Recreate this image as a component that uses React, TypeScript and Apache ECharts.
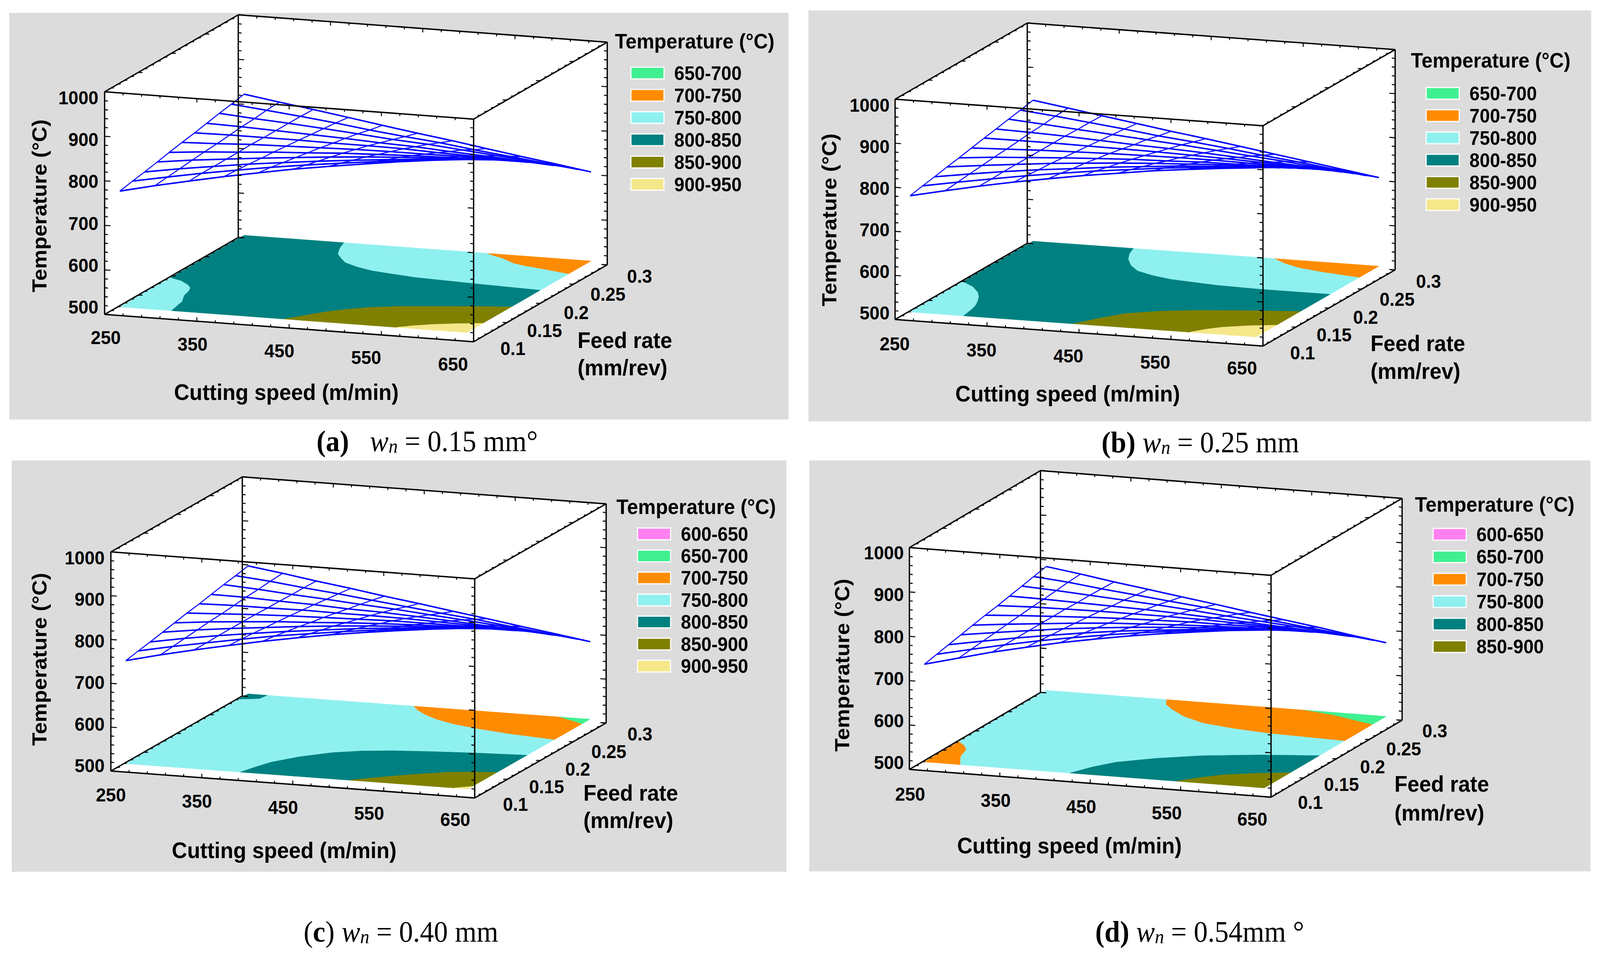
import React, { useEffect, useRef } from "react";
import * as echarts from "echarts";

type Pt = [number, number];

const SANS = '"Liberation Sans", Arial, sans-serif';
const SERIF = '"Liberation Serif", serif';

// axis ticks
const speedLabels = [250, 350, 450, 550, 650];
const feedLabels = ["0.1", "0.15", "0.2", "0.25", "0.3"];
const tempLabels = [500, 600, 700, 800, 900, 1000];

// grid of the fitted surface
const meshSpeeds = [252, 290, 327, 365, 402, 440, 478, 515, 553, 590, 628];
const meshFeeds = [0.12, 0.139, 0.157, 0.176, 0.194, 0.213, 0.232, 0.25, 0.269, 0.287, 0.306];

// legend colours
const bandColors: Record<string, string> = {
  "600-650": "#ff80f0",
  "650-700": "#40f090",
  "700-750": "#ff8c00",
  "750-800": "#8ff0f0",
  "800-850": "#008080",
  "850-900": "#808000",
  "900-950": "#f5e78a",
};

// temperature surfaces: rows run from low feed to high feed, columns from low speed to high speed
const surfaceA = [
  [760, 778, 794, 810, 824, 838, 850, 861, 872, 881, 889],
  [766, 781, 795, 808, 820, 831, 841, 850, 859, 867, 873],
  [771, 784, 795, 806, 815, 824, 832, 839, 846, 851, 856],
  [777, 787, 795, 803, 810, 817, 823, 828, 832, 836, 839],
  [783, 790, 795, 801, 805, 810, 813, 816, 818, 820, 821],
  [789, 792, 796, 798, 800, 802, 803, 803, 804, 803, 802],
  [794, 795, 795, 795, 794, 794, 793, 790, 788, 786, 783],
  [800, 798, 795, 792, 789, 785, 782, 777, 773, 768, 763],
  [806, 800, 795, 789, 783, 776, 771, 764, 757, 750, 743],
  [811, 803, 795, 786, 776, 767, 759, 749, 740, 731, 722],
  [817, 805, 794, 782, 770, 758, 747, 735, 723, 712, 700],
];
const surfaceB = [
  [764, 781, 797, 812, 825, 838, 849, 860, 869, 877, 884],
  [770, 784, 797, 810, 821, 832, 841, 850, 857, 863, 868],
  [775, 787, 798, 808, 816, 825, 832, 839, 844, 849, 852],
  [781, 790, 798, 806, 812, 818, 823, 827, 831, 833, 835],
  [786, 793, 798, 803, 807, 811, 813, 816, 817, 818, 818],
  [792, 795, 798, 800, 802, 803, 804, 804, 803, 802, 800],
  [798, 798, 798, 797, 796, 795, 793, 791, 788, 785, 781],
  [803, 801, 798, 794, 790, 787, 783, 778, 773, 768, 762],
  [809, 803, 797, 791, 785, 779, 772, 765, 758, 750, 742],
  [814, 806, 797, 788, 778, 770, 761, 751, 742, 732, 722],
  [820, 808, 796, 784, 772, 761, 749, 737, 725, 713, 701],
];
const surfaceC = [
  [735, 754, 771, 787, 802, 816, 829, 840, 850, 859, 867],
  [741, 757, 771, 785, 798, 809, 820, 829, 837, 844, 851],
  [746, 760, 772, 783, 793, 802, 811, 818, 824, 829, 834],
  [752, 763, 772, 780, 788, 795, 801, 806, 810, 814, 816],
  [758, 766, 772, 778, 782, 787, 791, 794, 796, 798, 798],
  [764, 768, 772, 775, 777, 779, 781, 781, 781, 781, 780],
  [769, 771, 771, 772, 771, 771, 770, 768, 766, 764, 760],
  [775, 774, 771, 769, 765, 763, 759, 755, 750, 746, 740],
  [781, 776, 770, 765, 759, 754, 747, 741, 734, 727, 720],
  [786, 779, 770, 762, 753, 744, 735, 727, 717, 708, 699],
  [792, 781, 769, 758, 746, 735, 723, 712, 700, 689, 677],
];
const surfaceD = [
  [720, 740, 759, 776, 792, 806, 819, 830, 840, 849, 856],
  [726, 743, 759, 774, 787, 799, 810, 819, 827, 834, 840],
  [732, 746, 759, 771, 782, 792, 800, 807, 814, 819, 823],
  [738, 749, 759, 769, 777, 784, 790, 795, 800, 803, 805],
  [744, 752, 759, 766, 772, 776, 780, 783, 785, 787, 787],
  [750, 755, 759, 763, 766, 768, 770, 770, 771, 770, 769],
  [755, 758, 759, 760, 760, 760, 759, 757, 755, 752, 749],
  [761, 760, 758, 756, 754, 751, 747, 743, 739, 734, 729],
  [767, 763, 758, 753, 748, 742, 735, 729, 723, 716, 709],
  [773, 766, 757, 749, 741, 733, 724, 715, 706, 697, 688],
  [779, 768, 756, 745, 734, 723, 711, 700, 689, 677, 666],
];

// contour lines on the floor: [cutting speed, feed rate]
const aLeft: Pt[] = [[252, 0.196], [267, 0.191], [280, 0.183], [288, 0.176], [292, 0.168], [295, 0.157], [303, 0.143], [308, 0.12]];
const aUpper: Pt[] = [[360, 0.306], [365, 0.293], [373, 0.279], [384, 0.269], [395, 0.26], [414, 0.252], [434, 0.246], [459, 0.242], [487, 0.238], [551, 0.234], [628, 0.23]];
const aOrange: Pt[] = [[515, 0.306], [526, 0.301], [538, 0.297], [558, 0.287], [573, 0.283], [590, 0.28], [628, 0.272]];
const aOlive: Pt[] = [[430, 0.12], [443, 0.131], [457, 0.143], [474, 0.153], [492, 0.161], [520, 0.169], [549, 0.174], [590, 0.181], [628, 0.187]];
const aYellow: Pt[] = [[552, 0.12], [566, 0.127], [582, 0.133], [604, 0.139], [628, 0.144]];

const bLeft: Pt[] = [[252, 0.2], [270, 0.19], [285, 0.177], [293, 0.167], [299, 0.157], [304, 0.147], [307, 0.137], [310, 0.12]];
const bUpper: Pt[] = [[361, 0.306], [366, 0.293], [374, 0.28], [387, 0.266], [403, 0.254], [425, 0.246], [449, 0.24], [503, 0.234], [551, 0.232], [628, 0.232]];
const bOrange: Pt[] = [[514, 0.306], [533, 0.296], [555, 0.288], [585, 0.282], [620, 0.277], [628, 0.276]];
const bOlive: Pt[] = [[429, 0.12], [445, 0.137], [463, 0.153], [492, 0.164], [526, 0.172], [575, 0.18], [628, 0.187]];
const bYellow: Pt[] = [[556, 0.12], [567, 0.13], [579, 0.137], [602, 0.145], [628, 0.151]];

const cPatch: Pt[] = [[252, 0.292], [271, 0.297], [273, 0.306]];
const cTeal: Pt[] = [[378, 0.12], [384, 0.135], [391, 0.149], [410, 0.167], [434, 0.182], [460, 0.191], [489, 0.197], [530, 0.202], [572, 0.206], [628, 0.21]];
const cOlive: Pt[] = [[498, 0.12], [517, 0.13], [537, 0.139], [558, 0.148], [580, 0.156], [603, 0.161], [628, 0.164]];
const cOrange: Pt[] = [[434, 0.306], [446, 0.296], [461, 0.287], [480, 0.278], [504, 0.27], [537, 0.263], [574, 0.257], [628, 0.251]];
const cGreen: Pt[] = [[593, 0.306], [621, 0.296], [628, 0.293]];
const cYellow: Pt[] = [[613, 0.12], [628, 0.127]];

const dLeft: Pt[] = [[252, 0.173], [265, 0.164], [273, 0.155], [275, 0.149], [278, 0.14], [284, 0.131], [292, 0.12]];
const dUpper: Pt[] = [[385, 0.306], [392, 0.295], [407, 0.284], [430, 0.27], [460, 0.258], [498, 0.251], [541, 0.246], [628, 0.242]];
const dGreen: Pt[] = [[536, 0.306], [576, 0.299], [622, 0.286], [628, 0.285]];
const dTeal: Pt[] = [[413, 0.12], [425, 0.138], [440, 0.153], [473, 0.169], [513, 0.183], [568, 0.195], [628, 0.204]];
const dOlive: Pt[] = [[531, 0.12], [547, 0.132], [566, 0.143], [595, 0.152], [628, 0.16]];

const rev = (l: Pt[]): Pt[] => [...l].reverse();

// bands closed from those lines and the edges of the floor
const contoursA: Record<string, Pt[][]> = {
  "700-750": [[...aOrange, [628, 0.306]]],
  "750-800": [[[252, 0.12], ...rev(aLeft)], [...aUpper, ...rev(aOrange)]],
  "800-850": [[...aLeft, ...aOlive, ...rev(aUpper), [252, 0.306]]],
  "850-900": [[...aOlive, ...rev(aYellow)]],
  "900-950": [[...aYellow, [628, 0.12]]],
};
const contoursB: Record<string, Pt[][]> = {
  "700-750": [[...bOrange, [628, 0.306]]],
  "750-800": [[[252, 0.12], ...rev(bLeft)], [...bUpper, ...rev(bOrange)]],
  "800-850": [[...bLeft, ...bOlive, ...rev(bUpper), [252, 0.306]]],
  "850-900": [[...bOlive, ...rev(bYellow)]],
  "900-950": [[...bYellow, [628, 0.12]]],
};
const contoursC: Record<string, Pt[][]> = {
  "650-700": [[...cGreen, [628, 0.306]]],
  "700-750": [[...cOrange, ...rev(cGreen)]],
  "750-800": [[[252, 0.12], ...cTeal, ...rev(cOrange), ...rev(cPatch)]],
  "800-850": [[...cPatch, [252, 0.306]], [...cTeal, ...rev(cOlive)]],
  "850-900": [[...cOlive, ...rev(cYellow)]],
  "900-950": [[...cYellow, [628, 0.12]]],
};
const contoursD: Record<string, Pt[][]> = {
  "650-700": [[...dGreen, [628, 0.306]]],
  "700-750": [[[252, 0.12], ...rev(dLeft)], [...dUpper, ...rev(dGreen)]],
  "750-800": [[...dLeft, ...dTeal, ...rev(dUpper), [252, 0.306]]],
  "800-850": [[...dTeal, ...rev(dOlive)]],
  "850-900": [[...dOlive, [628, 0.12]]],
};

const legendA = ["650-700", "700-750", "750-800", "800-850", "850-900", "900-950"];
const legendC = ["600-650", "650-700", "700-750", "750-800", "800-850", "850-900", "900-950"];
const legendD = ["600-650", "650-700", "700-750", "750-800", "800-850", "850-900"];

// page layout of each panel
const panels = [
  {
    rect: [25, 33, 2148, 1074], origin: [285, 805], sVec: [1005, 70], fVec: [364, -197], h: 570,
    surface: surfaceA, contours: contoursA, legend: legendA,
    tempLab: [268, 786, 250], speedLab: [288, 864, 1234, 932], feedLab: [1397, 892, 1742, 707],
    cutTitle: [780, 1004], feedTitle: [1573, 871, 941], tempTitle: [108, 527],
    legTitle: [1675, 105], legBox: [1717, 187, 57], capRich: "{b|(a)}{r|   }{i|w}{s|n}{r| = 0.15 mm°}", capLeft: 862, capY: 1133,
  },
  {
    rect: [2202, 27, 4334, 1079], origin: [2438, 818], sVec: [1002, 68], fVec: [360, -195], h: 564,
    surface: surfaceB, contours: contoursB, legend: legendA,
    tempLab: [2423, 801, 269], speedLab: [2437, 880, 3383, 942], feedLab: [3548, 903, 3891, 720],
    cutTitle: [2908, 1008], feedTitle: [3733, 879, 950], tempTitle: [2259, 563],
    legTitle: [3843, 154], legBox: [3883, 239, 57], capRich: "{b|(b)}{r| }{i|w}{s|n}{r| = 0.25 mm}", capLeft: 3000, capY: 1136,
  },
  {
    rect: [32, 1179, 2142, 2232], origin: [302, 1974], sVec: [991, 69], fVec: [358, -192], h: 561,
    surface: surfaceC, contours: contoursC, legend: legendC,
    tempLab: [285, 1960, 1428], speedLab: [302, 2035, 1240, 2098], feedLab: [1404, 2059, 1743, 1879],
    cutTitle: [774, 2177], feedTitle: [1589, 2030, 2100], tempTitle: [108, 1688],
    legTitle: [1679, 1297], legBox: [1735, 1367, 56.4], capRich: "{r|(}{b|c}{r|)}{r| }{i|w}{s|n}{r| = 0.40 mm}", capLeft: 827, capY: 2389,
  },
  {
    rect: [2204, 1179, 4332, 2231], origin: [2477, 1970], sVec: [985, 71], fVec: [357, -197], h: 568,
    surface: surfaceD, contours: contoursD, legend: legendD,
    tempLab: [2462, 1952, 1415], speedLab: [2479, 2033, 3411, 2097], feedLab: [3569, 2054, 3908, 1871],
    cutTitle: [2913, 2165], feedTitle: [3798, 2007, 2081], tempTitle: [2294, 1703],
    legTitle: [3854, 1291], legBox: [3902, 1368, 57.5], capRich: "{b|(d)}{r| }{i|w}{s|n}{r| = 0.54mm °}", capLeft: 2983, capY: 2389,
  },
];

function buildOption() {
  const series: any[] = [];
  const grid: any[] = [];
  const xAxis: any[] = [];
  const yAxis: any[] = [];
  const legend: any[] = [];
  const title: any[] = [];
  const graphic: any[] = [];

  panels.forEach((p, idx) => {
    const [x0, y0, x1, y1] = p.rect;
    grid.push({ left: x0, top: y0, width: x1 - x0, height: y1 - y0, show: true, backgroundColor: "#dcdcdc", borderWidth: 0 });
    xAxis.push({ type: "value", gridIndex: idx, min: x0, max: x1, show: false });
    yAxis.push({ type: "value", gridIndex: idx, min: y0, max: y1, inverse: true, show: false });

    const project = (s: number, f: number, t: number): Pt => {
      const a = (s - 250) / 400;
      const b = (f - 0.1) / 0.2;
      const c = (t - 500) / 500;
      return [
        p.origin[0] + a * p.sVec[0] + b * p.fVec[0],
        p.origin[1] + a * p.sVec[1] + b * p.fVec[1] - c * p.h,
      ];
    };
    const base = { coordinateSystem: "cartesian2d", xAxisIndex: idx, yAxisIndex: idx, type: "custom", clip: false, silent: true };

    // white box silhouette
    const hex = [project(250, 0.1, 500), project(650, 0.1, 500), project(650, 0.3, 500), project(650, 0.3, 1000), project(250, 0.3, 1000), project(250, 0.1, 1000)];
    series.push({
      ...base, name: "box-" + idx, z: 2, data: [[x0, y0]],
      renderItem: (_: any, api: any) => ({ type: "polygon", shape: { points: hex.map((q) => api.coord(q)) }, style: { fill: "#ffffff" } }),
    });

    // contour bands on the floor
    const names = Object.keys(bandColors);
    names.forEach((name) => {
      const polys = p.contours[name] || [];
      if (!polys.length && !p.legend.includes(name)) return;
      series.push({
        ...base, name, z: 3, itemStyle: { color: bandColors[name] },
        data: polys.map(() => [x0, y0]),
        renderItem: (params: any, api: any) => ({
          type: "polygon",
          shape: { points: polys[params.dataIndex].map((q) => api.coord(project(q[0], q[1], 500))) },
          style: { fill: bandColors[name], stroke: bandColors[name], lineWidth: 1 },
        }),
      });
    });

    // wire-frame surface: constant-feed lines first, constant-speed lines after
    const wires: Pt[][] = [];
    p.surface.forEach((row, j) => wires.push(row.map((t, i) => project(meshSpeeds[i], meshFeeds[j], t))));
    meshSpeeds.forEach((sp, i) => wires.push(p.surface.map((row, j) => project(sp, meshFeeds[j], row[i]))));
    series.push({
      ...base, name: "surface-" + idx, z: 4, data: wires.map(() => [x0, y0]),
      renderItem: (params: any, api: any) => ({
        type: "polyline",
        shape: { points: wires[params.dataIndex].map((q) => api.coord(q)) },
        style: { stroke: "#0000ff", lineWidth: params.dataIndex < meshFeeds.length ? 3.8 : 2.6, fill: null },
      }),
    });

    // box edges and ticks
    const segs: [Pt, Pt, number][] = [];
    const edge = (a: Pt, b: Pt) => segs.push([a, b, 3.6]);
    const c = {
      flb: project(250, 0.1, 500), frb: project(650, 0.1, 500), blb: project(250, 0.3, 500), brb: project(650, 0.3, 500),
      flt: project(250, 0.1, 1000), frt: project(650, 0.1, 1000), blt: project(250, 0.3, 1000), brt: project(650, 0.3, 1000),
    };
    edge(c.flb, c.flt); edge(c.frb, c.frt); edge(c.blb, c.blt); edge(c.brb, c.brt);
    edge(c.flt, c.frt); edge(c.frt, c.brt); edge(c.brt, c.blt); edge(c.blt, c.flt);
    edge(c.flb, c.frb); edge(c.frb, c.brb); edge(c.flb, c.blb);
    const tick = (q: Pt, dx: number, dy: number) => segs.push([q, [q[0] + dx, q[1] + dy], 2.6]);
    for (let t = 500; t <= 1000; t += 20) {
      const len = t % 100 === 0 ? 16 : 9;
      tick(project(250, 0.1, t), len, 1);
      tick(project(250, 0.3, t), len, 1);
      tick(project(650, 0.1, t), -len, -1);
      tick(project(650, 0.3, t), -len, -1);
    }
    for (let s = 250; s <= 650; s += 20) {
      const len = (s - 250) % 100 === 0 ? 10 : 6;
      tick(project(s, 0.1, 500), 0, -len);
      tick(project(s, 0.1, 1000), 0, len);
      tick(project(s, 0.3, 1000), 0, len);
    }
    for (let k = 0; k <= 20; k++) {
      const f = 0.1 + k * 0.01;
      const len = k % 5 === 0 ? 12 : 7;
      tick(project(650, f, 500), -len, 0);
      tick(project(250, f, 500), len, 0);
      tick(project(250, f, 1000), len, 0);
      tick(project(650, f, 1000), -len, 0);
    }
    series.push({
      ...base, name: "edges-" + idx, z: 5, data: segs.map(() => [x0, y0]),
      renderItem: (params: any, api: any) => {
        const sg = segs[params.dataIndex];
        const a = api.coord(sg[0]);
        const b = api.coord(sg[1]);
        return { type: "line", shape: { x1: a[0], y1: a[1], x2: b[0], y2: b[1] }, style: { stroke: "#000000", lineWidth: sg[2] } };
      },
    });

    // tick labels
    const labels: { text: string; at: Pt; align: string }[] = [];
    tempLabels.forEach((t) => {
      const r = (t - 500) / 500;
      labels.push({ text: String(t), at: [p.tempLab[0], p.tempLab[1] + r * (p.tempLab[2] - p.tempLab[1])], align: "right" });
    });
    speedLabels.forEach((s) => {
      const r = (s - 250) / 400;
      labels.push({ text: String(s), at: [p.speedLab[0] + r * (p.speedLab[2] - p.speedLab[0]), p.speedLab[1] + r * (p.speedLab[3] - p.speedLab[1])], align: "center" });
    });
    feedLabels.forEach((f) => {
      const r = (Number(f) - 0.1) / 0.2;
      labels.push({ text: f, at: [p.feedLab[0] + r * (p.feedLab[2] - p.feedLab[0]), p.feedLab[1] + r * (p.feedLab[3] - p.feedLab[1])], align: "center" });
    });
    series.push({
      ...base, name: "ticklabels-" + idx, z: 6, data: labels.map(() => [x0, y0]),
      renderItem: (params: any, api: any) => {
        const l = labels[params.dataIndex];
        const q = api.coord(l.at);
        return {
          type: "text", x: q[0], y: q[1],
          style: { text: l.text, fill: "#000000", font: `bold 49px ${SANS}`, textAlign: l.align, textVerticalAlign: "middle" },
        };
      },
    });

    // legend
    legend.push({
      show: true, orient: "vertical", left: p.legBox[0], top: p.legBox[1] - 25, padding: 0,
      itemWidth: 90, itemHeight: 30, itemGap: p.legBox[2] - 50, icon: "rect", selectedMode: false,
      data: p.legend.map((name) => ({ name, icon: "rect" })),
      itemStyle: { borderColor: "#ffffff", borderWidth: 3 },
      textStyle: { fontFamily: SANS, fontWeight: "bold", fontSize: 50, lineHeight: 50, color: "#000000", padding: [0, 0, 0, 23] },
    });

    title.push({
      left: p.legTitle[0], top: p.legTitle[1] - 27, padding: 0, text: "Temperature (°C)",
      textStyle: { fontFamily: SANS, fontWeight: "bold", fontSize: 54, color: "#000000" },
    });
    title.push({
      left: p.capLeft, top: p.capY - 42, padding: 0, text: p.capRich,
      textStyle: {
        fontWeight: "normal", fontSize: 76, fontFamily: SERIF,
        rich: {
          b: { fontFamily: SERIF, fontWeight: "bold", fontSize: 76, color: "#000000" },
          r: { fontFamily: SERIF, fontWeight: "normal", fontSize: 76, color: "#000000" },
          i: { fontFamily: SERIF, fontWeight: "normal", fontStyle: "italic", fontSize: 76, color: "#000000" },
          s: { fontFamily: SERIF, fontWeight: "normal", fontStyle: "italic", fontSize: 50, color: "#000000", verticalAlign: "bottom" },
        },
      },
    });

    // axis titles
    const axisFont = `bold 58px ${SANS}`;
    graphic.push(
      { type: "text", x: p.cutTitle[0], y: p.cutTitle[1], z: 20, style: { text: "Cutting speed (m/min)", font: axisFont, fill: "#000000", textAlign: "center", textVerticalAlign: "middle" } },
      { type: "text", x: p.feedTitle[0], y: p.feedTitle[1], z: 20, style: { text: "Feed rate", font: axisFont, fill: "#000000", textAlign: "left", textVerticalAlign: "middle" } },
      { type: "text", x: p.feedTitle[0], y: p.feedTitle[2], z: 20, style: { text: "(mm/rev)", font: axisFont, fill: "#000000", textAlign: "left", textVerticalAlign: "middle" } },
      { type: "text", x: p.tempTitle[0], y: p.tempTitle[1], rotation: Math.PI / 2, z: 20, style: { text: "Temperature (°C)", font: `bold 55px ${SANS}`, fill: "#000000", textAlign: "center", textVerticalAlign: "middle" } },
    );
  });

  return { animation: false, backgroundColor: "#ffffff", grid, xAxis, yAxis, series, legend, title, graphic };
}

export default function App() {
  const ref = useRef<HTMLDivElement>(null);
  useEffect(() => {
    document.body.style.margin = "0";
    document.body.style.overflow = "hidden";
    const chart = echarts.init(ref.current!, undefined, { renderer: "svg" });
    chart.setOption(buildOption() as any);
    return () => chart.dispose();
  }, []);
  // the browser may open narrower than the 4358 px the chart is laid out for: fit the width
  const fit = Math.min(1, window.innerWidth / 4358);
  return (
    <div
      ref={ref}
      style={{ position: "absolute", left: 0, top: 0, width: 4358, height: 2440, transform: `scale(${fit}, 1)`, transformOrigin: "0 0" }}
    />
  );
}
